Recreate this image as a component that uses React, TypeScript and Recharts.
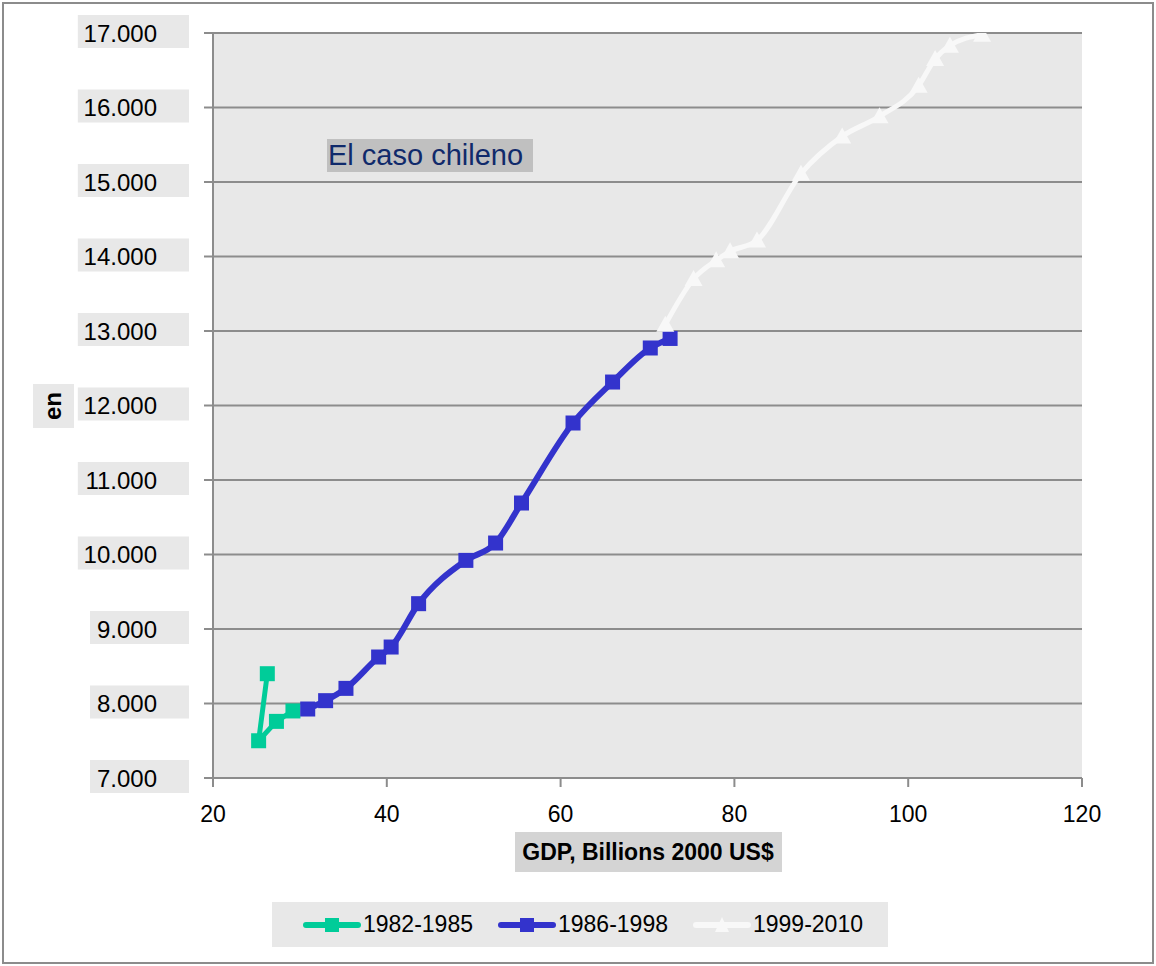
import React from 'react';
import { CartesianGrid, Legend, Line, LineChart, XAxis, YAxis } from 'recharts';

// GDP (billions 2000 US$) vs "en", Chile, three periods
const gdp8285 = [26.25, 25.25, 27.3, 29.2];
const en8285 = [8400, 7500, 7760, 7900];

const gdp8698 = [30.9, 32.96, 35.3, 39.06, 40.5, 43.66, 49.1, 52.52, 55.5, 61.43, 65.98, 70.32, 72.6];
const en8698 = [7926, 8038, 8203, 8624, 8758, 9340, 9921, 10154, 10691, 11765, 12315, 12772, 12900];

const gdp9910 = [72.05, 75.3, 77.9, 79.5, 82.6, 87.66, 92.4, 96.7, 101.2, 103.1, 104.8, 108.5];
const en9910 = [13085, 13698, 13948, 14069, 14216, 15111, 15612, 15881, 16293, 16651, 16830, 16977];

const xTicks = [20, 40, 60, 80, 100, 120];
const yTicks = [7000, 8000, 9000, 10000, 11000, 12000, 13000, 14000, 15000, 16000, 17000];

const SERIES = [
  { name: '1982-1985', color: '#00cc99', marker: 'square', width: 5 },
  { name: '1986-1998', color: '#3333cc', marker: 'square', width: 6 },
  { name: '1999-2010', color: '#f8f8f8', marker: 'triangle', width: 5 },
];

const FONT = '"Liberation Sans", Arial, sans-serif';
const GRID = '#8c8c8c';
const PANEL = '#e8e8e8';

const zip = (xs: number[], ys: number[]) => xs.map((x, i) => ({ x, y: ys[i] }));
const d1 = zip(gdp8285, en8285);
const d2 = zip(gdp8698, en8698);
const d3 = zip(gdp9910, en9910);

const fmt = (v: number) => String(v).replace(/\B(?=(\d{3})+(?!\d))/g, '.');

function marker(kind: string, color: string) {
  return (p: any) => {
    const { cx, cy, index } = p;
    if (cx == null || cy == null) return <g key={index} />;
    if (kind === 'triangle') {
      return (
        <path
          key={index}
          d={`M${cx},${cy - 9} L${cx + 9},${cy + 7} L${cx - 9},${cy + 7} Z`}
          fill={color}
        />
      );
    }
    return <rect key={index} x={cx - 7.5} y={cy - 7.5} width={15} height={15} fill={color} />;
  };
}

function YTick(props: any) {
  const { y, payload } = props;
  const label = fmt(payload.value);
  const tw = label.length * 12.2;
  const right = 157;
  return (
    <g>
      <rect x={right - tw - 6} y={y - 18} width={189 - (right - tw - 6)} height={33} fill={PANEL} />
      <text x={right} y={y + 8.5} textAnchor="end" fontFamily={FONT} fontSize={24} fill="#000">
        {label}
      </text>
    </g>
  );
}

function XTick(props: any) {
  const { x, y, payload } = props;
  return (
    <text x={x} y={y + 33} textAnchor="middle" fontFamily={FONT} fontSize={23} fill="#000">
      {payload.value}
    </text>
  );
}

function XLabel() {
  return (
    <g>
      <rect x={515} y={832} width={267} height={40} fill="#d4d4d4" />
      <text x={648} y={860} textAnchor="middle" fontFamily={FONT} fontSize={23} fontWeight="bold" fill="#000">
        GDP, Billions 2000 US$
      </text>
    </g>
  );
}

function YLabel() {
  return (
    <g>
      <rect x={33} y={384} width={41} height={44} fill={PANEL} />
      <text
        x={61}
        y={406}
        transform="rotate(-90 61 406)"
        textAnchor="middle"
        fontFamily={FONT}
        fontSize={24}
        fontWeight="bold"
        fill="#000"
      >
        en
      </text>
    </g>
  );
}

function LegendBox() {
  return (
    <div
      style={{
        width: 616,
        height: 45,
        background: PANEL,
        display: 'flex',
        alignItems: 'center',
        paddingLeft: 31,
        boxSizing: 'border-box',
        fontFamily: FONT,
        fontSize: 23,
        color: '#000',
      }}
    >
      {SERIES.map((s) => (
        <div key={s.name} style={{ display: 'flex', alignItems: 'center', width: 197 }}>
          <svg width={58} height={20} style={{ display: 'block' }}>
            <line x1={3} y1={10} x2={55} y2={10} stroke={s.color} strokeWidth={6} strokeLinecap="round" />
            {s.marker === 'square' ? (
              <rect x={22} y={3} width={14} height={14} fill={s.color} />
            ) : (
              <path d="M29,2 L36,17 L22,17 Z" fill={s.color} />
            )}
          </svg>
          <span style={{ marginLeft: 2 }}>{s.name}</span>
        </div>
      ))}
    </div>
  );
}

export default function App() {
  return (
    <div style={{ position: 'relative', width: 1156, height: 966 }}>
      <style>{'body{margin:0;}'}</style>
      <div
        style={{
          position: 'absolute',
          left: 2,
          top: 2,
          width: 1152,
          height: 962,
          border: `2px solid ${GRID}`,
          boxSizing: 'border-box',
        }}
      />
      <LineChart width={1156} height={966} margin={{ top: 33, right: 74, bottom: 128, left: 0 }}>
        <CartesianGrid vertical={false} horizontal stroke={GRID} strokeWidth={2} fill={PANEL} />
        <XAxis
          type="number"
          dataKey="x"
          domain={[20, 120]}
          ticks={xTicks}
          height={60}
          tick={<XTick />}
          tickSize={9}
          tickLine={{ stroke: GRID, strokeWidth: 2 }}
          axisLine={{ stroke: GRID, strokeWidth: 2 }}
          allowDataOverflow
          label={{ content: () => <XLabel /> }}
        />
        <YAxis
          type="number"
          dataKey="y"
          domain={[7000, 17000]}
          ticks={yTicks}
          width={213}
          tick={<YTick />}
          tickSize={9}
          tickLine={{ stroke: GRID, strokeWidth: 2 }}
          axisLine={{ stroke: GRID, strokeWidth: 2 }}
          allowDataOverflow
          label={{ content: () => <YLabel /> }}
        />
        <Legend
          layout="horizontal"
          verticalAlign="middle"
          align="center"
          content={() => <LegendBox />}
          wrapperStyle={{ left: 272, top: 902, width: 616, height: 45 }}
        />
        <Line
          data={d1}
          dataKey="y"
          name={SERIES[0].name}
          type="linear"
          stroke={SERIES[0].color}
          strokeWidth={SERIES[0].width}
          dot={marker('square', SERIES[0].color)}
          activeDot={false}
          isAnimationActive={false}
        />
        <Line
          data={d2}
          dataKey="y"
          name={SERIES[1].name}
          type="monotoneX"
          stroke={SERIES[1].color}
          strokeWidth={SERIES[1].width}
          dot={marker('square', SERIES[1].color)}
          activeDot={false}
          isAnimationActive={false}
        />
        <Line
          data={d3}
          dataKey="y"
          name={SERIES[2].name}
          type="monotoneX"
          stroke={SERIES[2].color}
          strokeWidth={SERIES[2].width}
          dot={marker('triangle', SERIES[2].color)}
          activeDot={false}
          isAnimationActive={false}
        />
      </LineChart>
      <div
        style={{
          position: 'absolute',
          left: 327,
          top: 139,
          width: 206,
          height: 33,
          background: '#c0c0c0',
          fontFamily: FONT,
          fontSize: 29,
          lineHeight: '33px',
          color: '#102a6b',
          paddingLeft: 1,
          boxSizing: 'border-box',
          whiteSpace: 'nowrap',
        }}
      >
        El caso chileno
      </div>
    </div>
  );
}
